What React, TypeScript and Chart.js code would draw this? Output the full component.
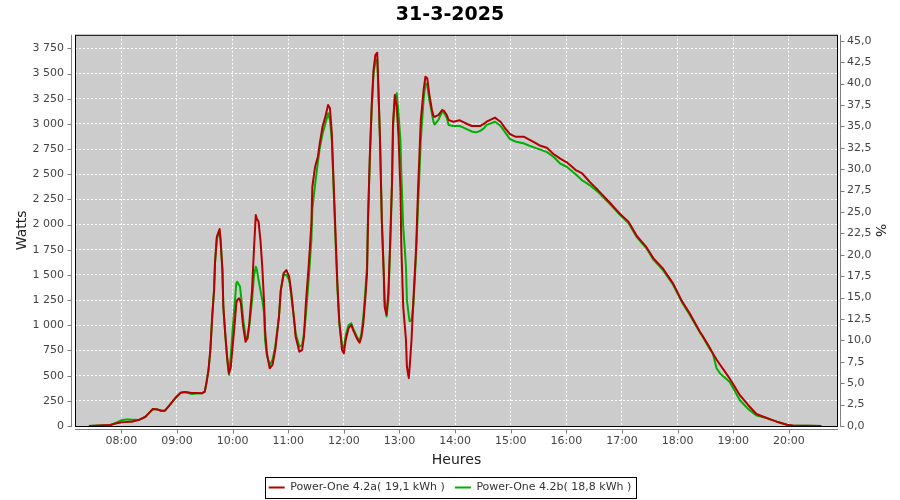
import React, { useEffect, useRef } from 'react';
import { Chart, registerables } from 'chart.js';

Chart.register(...registerables);

const TITLE = '31-3-2025';
const SERIES_A = 'Power-One 4.2a( 19,1 kWh )';
const SERIES_B = 'Power-One 4.2b( 18,8 kWh )';

const times = [
  '07:25', '07:48', '07:55', '08:01', '08:06', '08:11', '08:19', '08:26', '08:34', '08:38',
  '08:43', '08:47', '08:53', '08:58', '09:04', '09:09', '09:16', '09:27', '09:30', '09:32',
  '09:34', '09:36', '09:38', '09:40', '09:41', '09:43', '09:46', '09:47', '09:49', '09:50',
  '09:52', '09:54', '09:56', '09:58', '10:00', '10:02', '10:04', '10:05', '10:07', '10:08',
  '10:09', '10:11', '10:12', '10:14', '10:16', '10:18', '10:21', '10:23', '10:25', '10:26',
  '10:28', '10:30', '10:32', '10:34', '10:35', '10:37', '10:40', '10:43', '10:46', '10:50',
  '10:52', '10:55', '10:58', '11:01', '11:03', '11:06', '11:08', '11:12', '11:15', '11:17',
  '11:19', '11:22', '11:25', '11:26', '11:29', '11:32', '11:34', '11:37', '11:40', '11:43',
  '11:45', '11:47', '11:49', '11:51', '11:53', '11:55', '11:58', '12:00', '12:02', '12:05',
  '12:08', '12:10', '12:14', '12:17', '12:19', '12:21', '12:23', '12:25', '12:26', '12:28',
  '12:30', '12:32', '12:34', '12:36', '12:37', '12:39', '12:41', '12:43', '12:44', '12:46',
  '12:48', '12:50', '12:52', '12:53', '12:55', '12:57', '12:59', '13:01', '13:02', '13:04',
  '13:07', '13:08', '13:10', '13:11', '13:13', '13:15', '13:18', '13:20', '13:23', '13:26',
  '13:28', '13:30', '13:32', '13:35', '13:37', '13:38', '13:42', '13:46', '13:48', '13:51',
  '13:53', '13:58', '14:05', '14:13', '14:18', '14:23', '14:27', '14:31', '14:34', '14:43',
  '14:49', '14:54', '14:59', '15:05', '15:14', '15:21', '15:32', '15:39', '15:46', '15:53',
  '16:01', '16:10', '16:17', '16:25', '16:34', '16:47', '16:58', '17:07', '17:16', '17:26',
  '17:34', '17:44', '17:55', '18:04', '18:13', '18:24', '18:28', '18:35', '18:38', '18:42',
  '18:46', '18:56', '19:07', '19:16', '19:25', '19:36', '19:47', '19:58', '20:05', '20:35',
];

const powerA = [
  0, 10, 27, 37, 40, 43, 60, 92, 169, 166,
  152, 152, 218, 275, 331, 338, 328, 325, 341, 440,
  556, 755, 1085, 1350, 1616, 1880, 1956, 1847, 1549, 1185,
  920, 688, 523, 580, 787, 986, 1218, 1251, 1268, 1250,
  1218, 1020, 950, 837, 870, 1020, 1350, 1748, 2095, 2060,
  2029, 1847, 1582, 1218, 953, 722, 573, 606, 755, 1085,
  1350, 1516, 1549, 1483, 1350, 1085, 887, 738, 755, 887,
  1218, 1582, 2013, 2376, 2575, 2674, 2807, 2972, 3071, 3188,
  3155, 2907, 2410, 1914, 1417, 1053, 755, 722, 854, 970,
  1003, 953, 871, 827, 887, 1020, 1251, 1516, 2013, 2674,
  3171, 3535, 3684, 3707, 3436, 2840, 2013, 1516, 1185, 1102,
  1318, 1847, 2443, 3006, 3287, 3171, 2873, 2344, 1781, 1185,
  854, 589, 474, 589, 854, 1251, 1781, 2344, 3039, 3337,
  3469, 3452, 3304, 3138, 3071, 3071, 3088, 3138, 3130, 3088,
  3039, 3022, 3036, 2999, 2979, 2979, 2979, 3000, 3022, 3062,
  3022, 2956, 2900, 2873, 2873, 2840, 2783, 2764, 2701, 2658,
  2615, 2542, 2509, 2426, 2343, 2217, 2105, 2029, 1887, 1781,
  1665, 1566, 1417, 1251, 1119, 936, 880, 772, 720, 660,
  606, 474, 308, 209, 119, 79, 43, 13, 3, 0,
];

const powerB = [
  0, 10, 35, 60, 65, 62, 60, 92, 169, 166,
  152, 152, 218, 275, 331, 338, 318, 325, 341, 440,
  556, 755, 1085, 1350, 1616, 1860, 1930, 1847, 1549, 1185,
  920, 688, 505, 688, 950, 1185, 1417, 1433, 1400, 1384,
  1300, 1100, 1020, 887, 870, 986, 1250, 1483, 1582, 1560,
  1450, 1350, 1250, 1120, 854, 700, 606, 655, 787, 1085,
  1350, 1500, 1500, 1450, 1317, 1085, 920, 787, 804, 920,
  1100, 1450, 1850, 2150, 2400, 2620, 2760, 2900, 3000, 3105,
  3039, 2840, 2343, 1847, 1384, 1020, 804, 771, 900, 1000,
  1020, 970, 887, 844, 920, 1085, 1317, 1583, 2050, 2650,
  3150, 3500, 3620, 3640, 3400, 2840, 2050, 1550, 1250, 1085,
  1250, 1780, 2400, 2950, 3250, 3304, 3100, 2840, 2509, 1980,
  1582, 1251, 1100, 1040, 1050, 1200, 1715, 2178, 2840, 3237,
  3403, 3380, 3250, 3100, 3006, 2995, 3040, 3121, 3110, 3060,
  2989, 2979, 2979, 2946, 2925, 2916, 2930, 2956, 2990, 3022,
  2980, 2916, 2850, 2825, 2807, 2780, 2745, 2720, 2674, 2609,
  2570, 2500, 2440, 2393, 2325, 2205, 2095, 2015, 1875, 1770,
  1650, 1550, 1405, 1240, 1105, 930, 871, 760, 722, 573,
  520, 440, 258, 170, 105, 79, 43, 13, 3, 0,
];

const hourTicks = [
  '08:00', '09:00', '10:00', '11:00', '12:00', '13:00', '14:00',
  '15:00', '16:00', '17:00', '18:00', '19:00', '20:00',
];
const wattTicks = [0, 250, 500, 750, 1000, 1250, 1500, 1750, 2000, 2250, 2500, 2750, 3000, 3250, 3500, 3750];
const pctTicks = [0, 2.5, 5, 7.5, 10, 12.5, 15, 17.5, 20, 22.5, 25, 27.5, 30, 32.5, 35, 37.5, 40, 42.5, 45];

const X_MIN = '07:10';
const X_MAX = '20:53';
const W_MAX = 3885;
const P_MAX = 45.7;

const FONT = "'DejaVu Sans', sans-serif";
const TICK_COLOR = '#444444';
const AXIS_COLOR = '#808080';

const toMin = (s: string) => {
  const [h, m] = s.split(':').map(Number);
  return h * 60 + m;
};
const fmtTime = (v: number) => {
  const h = Math.floor(v / 60);
  const m = Math.round(v - h * 60);
  return `${String(h).padStart(2, '0')}:${String(m).padStart(2, '0')}`;
};
const fmtWatt = (v: number) => String(Math.round(v)).replace(/\B(?=(\d{3})+(?!\d))/g, ' ');
const fmtPct = (v: number) => v.toFixed(1).replace('.', ',');

const framePlugin = {
  id: 'frame',
  beforeDraw(chart: any) {
    const { ctx, chartArea: a } = chart;
    ctx.save();
    ctx.fillStyle = '#cccccc';
    ctx.fillRect(a.left, a.top, a.right - a.left, a.bottom - a.top);
    ctx.restore();
  },
  beforeDatasetsDraw(chart: any) {
    const { ctx, chartArea: a } = chart;
    ctx.save();
    ctx.strokeStyle = '#000000';
    ctx.lineWidth = 1;
    ctx.strokeRect(a.left + 0.5, a.top + 0.5, a.right - a.left - 1, a.bottom - a.top);
    ctx.restore();
  },
  afterDraw(chart: any) {
    const { ctx, chartArea: a, scales } = chart;
    ctx.save();
    ctx.strokeStyle = AXIS_COLOR;
    ctx.lineWidth = 1;
    ctx.beginPath();
    const lx = a.left - 3.5;
    ctx.moveTo(lx, a.top);
    ctx.lineTo(lx, a.bottom + 1);
    scales.y.ticks.forEach((t: any) => {
      const y = Math.round(scales.y.getPixelForValue(t.value)) + 0.5;
      ctx.moveTo(lx - 4, y);
      ctx.lineTo(lx, y);
    });
    const rx = a.right + 2.5;
    ctx.moveTo(rx, a.top);
    ctx.lineTo(rx, a.bottom + 1);
    scales.y1.ticks.forEach((t: any) => {
      const y = Math.round(scales.y1.getPixelForValue(t.value)) + 0.5;
      ctx.moveTo(rx, y);
      ctx.lineTo(rx + 4, y);
    });
    const by = a.bottom + 3.5;
    ctx.moveTo(a.left, by);
    ctx.lineTo(a.right, by);
    scales.x.ticks.forEach((t: any) => {
      const x = Math.round(scales.x.getPixelForValue(t.value)) + 0.5;
      ctx.moveTo(x, by);
      ctx.lineTo(x, by + 4);
    });
    ctx.stroke();

    const hb = chart.legend && chart.legend.legendHitBoxes;
    if (hb && hb.length) {
      const first = hb[0];
      const last = hb[hb.length - 1];
      const x0 = Math.round(first.left - 4) + 0.5;
      const x1 = Math.round(last.left + last.width + 5) + 0.5;
      const y0 = Math.round(first.top - 5) + 0.5;
      const y1 = Math.round(first.top + first.height + 5) + 0.5;
      ctx.strokeStyle = '#000000';
      ctx.strokeRect(x0, y0, x1 - x0, y1 - y0);
    }
    ctx.restore();
  },
};

export default function App() {
  const ref = useRef<HTMLCanvasElement>(null);

  useEffect(() => {
    if (!ref.current) return;
    const dataA = times.map((t, i) => ({ x: toMin(t), y: powerA[i] }));
    const dataB = times.map((t, i) => ({ x: toMin(t), y: powerB[i] }));
    const tickFont = { family: FONT, size: 11 };

    const lineOpts = {
      borderWidth: 2,
      pointRadius: 0,
      tension: 0.0001,
      borderJoinStyle: 'round',
      yAxisID: 'y',
    };

    const chart = new Chart(ref.current, {
      type: 'line',
      data: {
        datasets: [
          { ...lineOpts, label: SERIES_A, data: dataA, borderColor: '#b40000', backgroundColor: '#b40000' },
          { ...lineOpts, label: SERIES_B, data: dataB, borderColor: '#00b000', backgroundColor: '#00b000' },
        ],
      },
      options: {
        responsive: false,
        animation: false,
        events: [],
        layout: { padding: 0 },
        plugins: {
          title: {
            display: true,
            text: TITLE,
            color: '#000000',
            font: { family: FONT, size: 19, weight: 'bold' },
            padding: { top: 4, bottom: 8 },
          },
          legend: {
            display: true,
            position: 'bottom',
            maxHeight: 28,
            labels: {
              usePointStyle: true,
              pointStyle: 'line',
              pointStyleWidth: 16,
              padding: 10,
              color: '#333333',
              font: { family: FONT, size: 11 },
            },
          },
          tooltip: { enabled: false },
        },
        scales: {
          x: {
            type: 'linear',
            min: toMin(X_MIN),
            max: toMin(X_MAX),
            afterBuildTicks: (s: any) => {
              s.ticks = hourTicks.map((h) => ({ value: toMin(h) }));
            },
            afterFit: (s: any) => {
              s.height = 46;
            },
            ticks: {
              callback: (v: any) => fmtTime(Number(v)),
              font: tickFont,
              color: TICK_COLOR,
              padding: 9,
              maxRotation: 0,
              autoSkip: false,
            },
            grid: { color: '#ffffff', lineWidth: 1, drawTicks: false },
            border: { display: false, dash: [2, 2] },
            title: {
              display: true,
              text: 'Heures',
              color: '#222222',
              font: { family: FONT, size: 14 },
              padding: { top: 0, bottom: 3.6 },
            },
          },
          y: {
            type: 'linear',
            position: 'left',
            min: 0,
            max: W_MAX,
            afterBuildTicks: (s: any) => {
              s.ticks = wattTicks.map((v) => ({ value: v }));
            },
            afterFit: (s: any) => {
              s.width = 75;
            },
            ticks: {
              callback: (v: any) => fmtWatt(Number(v)),
              font: tickFont,
              color: TICK_COLOR,
              padding: 11,
            },
            grid: { color: '#ffffff', lineWidth: 1, drawTicks: false },
            border: { display: false, dash: [2, 2] },
            title: {
              display: true,
              text: 'Watts',
              color: '#222222',
              font: { family: FONT, size: 14 },
              padding: { top: 13.6, bottom: 0 },
            },
          },
          y1: {
            type: 'linear',
            position: 'right',
            min: 0,
            max: P_MAX,
            afterBuildTicks: (s: any) => {
              s.ticks = pctTicks.map((v) => ({ value: v }));
            },
            afterFit: (s: any) => {
              s.width = 62;
            },
            ticks: {
              callback: (v: any) => fmtPct(Number(v)),
              font: tickFont,
              color: TICK_COLOR,
              padding: 9,
            },
            grid: { display: false, drawTicks: false },
            border: { display: false },
            title: {
              display: true,
              text: '%',
              color: '#222222',
              font: { family: FONT, size: 14 },
              padding: { top: 11.6, bottom: 0 },
            },
          },
        },
      } as any,
      plugins: [framePlugin],
    });

    return () => chart.destroy();
  }, []);

  return (
    <div style={{ position: 'fixed', left: 0, top: 0, width: 900, height: 500, background: '#ffffff' }}>
      <canvas ref={ref} width={900} height={500} style={{ width: 900, height: 500, display: 'block' }} />
    </div>
  );
}
